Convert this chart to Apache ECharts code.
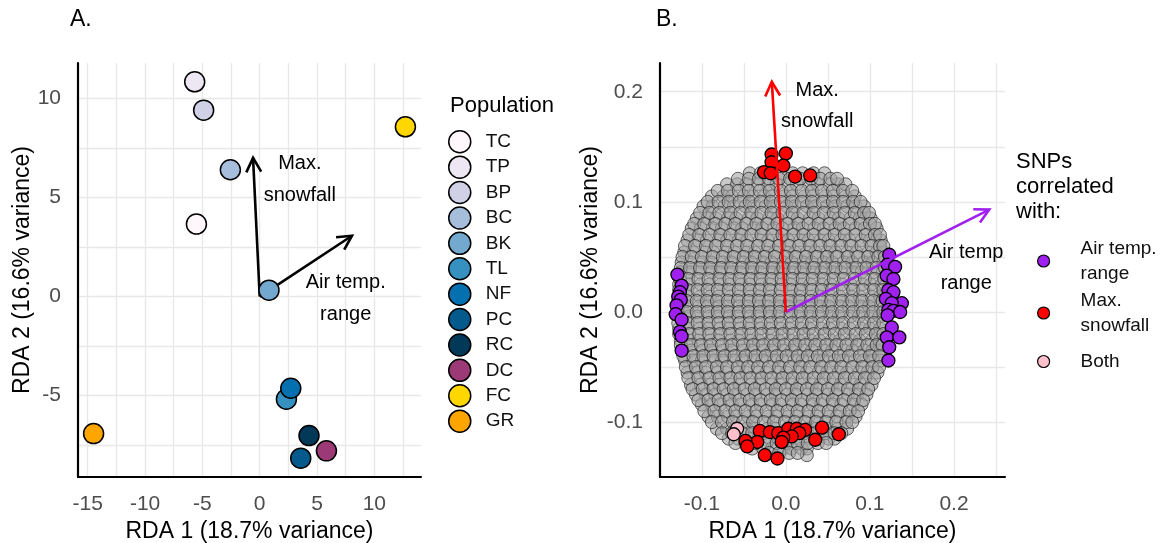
<!DOCTYPE html>
<html lang="en">
  <head>
    <meta charset="UTF-8">
    <title>RDA biplots</title>
    <style>
      html, body { margin: 0; padding: 0; background: #fff; }
      #main { width: 1167px; height: 543px; }
    </style>
  </head>
  <body>
    <div id="main"></div>
    <script src="https://cdn.jsdelivr.net/npm/echarts@6/dist/echarts.min.js"></script>
    <script>
      // ---- panel A: population scores ----
      var populations = ['TC', 'TP', 'BP', 'BC', 'BK', 'TL', 'NF', 'PC', 'RC', 'DC', 'FC', 'GR'];
      var popColors = ['#fff7fb', '#ece7f2', '#d0d1e6', '#a6bddb', '#74a9cf', '#3690c0',
                       '#0570b0', '#045a8d', '#023858', '#9b3a77', '#ffd700', '#ffa500'];
      var rda1Pop = [-5.52, -5.67, -4.89, -2.56, 0.81, 2.33, 2.71, 3.58, 4.30, 5.82, 12.71, -14.49];
      var rda2Pop = [3.66, 10.84, 9.41, 6.40, 0.32, -5.18, -4.63, -8.16, -7.02, -7.79, 8.57, -6.92];

      // environmental arrows (tip coordinates) and their label anchors
      var envNamesA = ['Air temp.\nrange', 'Max.\nsnowfall'];
      var envTipsA = [[8.05, 3.07], [-0.58, 7.0]];
      var envLabelsA = [[7.5, -0.09], [3.5, 5.89]];

      var ticksA_x = [-15, -10, -5, 0, 5, 10];
      var minorA_x = [-12.5, -7.5, -2.5, 2.5, 7.5, 12.5];
      var ticksA_y = [-5, 0, 5, 10];
      var minorA_y = [-7.5, -2.5, 2.5, 7.5];

      // ---- panel B: SNP loadings ----
      var envNamesB = ['Air temp\nrange', 'Max.\nsnowfall'];
      var envTipsB = [[0.242, 0.093], [-0.0167, 0.209]];
      var envLabelsB = [[0.2146, 0.0397], [0.0373, 0.1875]];

      var ticksB = [-0.1, 0, 0.1, 0.2];
      var minorB_x = [-0.05, 0.05, 0.15, 0.25];
      var minorB_y = [-0.05, 0.05, 0.15];

      // uncorrelated SNPs, rows of [y, x list], in thousandths
      var cloudRows = [
        [126, [-43, -30, -18, -5, 8, 20, 33, 46]],
        [116, [-70, -58, -47, -33, -21, -11, 3, 13, 28, 38, 52, 62, 71]],
        [105, [-88, -74, -64, -50, -39, -26, -16, -2, 8, 22, 32, 47, 57, 71, 82]],
        [96, [-98, -87, -73, -62, -48, -38, -24, -14, 1, 11, 25, 35, 49, 59, 73, 83, 93]],
        [85, [-106, -93, -83, -69, -59, -44, -34, -20, -10, 4, 14, 29, 39, 53, 63, 77, 88, 101]],
        [76, [-112, -101, -87, -76, -62, -52, -38, -28, -14, -4, 10, 20, 34, 45, 59, 69, 83, 94, 108]],
        [65, [-117, -104, -94, -80, -70, -56, -46, -31, -21, -7, 3, 17, 27, 41, 51, 65, 76, 90, 100, 113]],
        [54, [-121, -110, -96, -86, -72, -61, -47, -37, -23, -13, 1, 11, 25, 35, 49, 59, 73, 84, 98, 108, 117]],
        [45, [-124, -113, -99, -89, -75, -65, -51, -41, -27, -17, -3, 7, 21, 31, 45, 55, 69, 79, 93, 103, 116]],
        [36, [-125, -114, -102, -88, -78, -64, -54, -40, -30, -16, -6, 8, 18, 32, 42, 56, 66, 80, 90, 104, 115]],
        [25, [-127, -115, -101, -91, -77, -67, -53, -43, -29, -19, -5, 5, 19, 29, 43, 53, 67, 77, 91, 101, 114]],
        [14, [-126, -116, -102, -90, -80, -66, -56, -42, -32, -18, -8, 6, 16, 30, 40, 54, 64, 78, 88, 102, 112]],
        [5, [-128, -117, -103, -93, -79, -69, -55, -45, -31, -21, -7, 3, 17, 27, 41, 51, 65, 75, 89, 99, 113]],
        [-4, [-127, -115, -105, -91, -81, -67, -57, -43, -33, -19, -9, 5, 15, 29, 39, 53, 63, 77, 87, 101, 111]],
        [-15, [-127, -116, -102, -92, -78, -68, -54, -44, -30, -20, -6, 4, 18, 28, 42, 52, 66, 76, 90, 100, 112]],
        [-26, [-125, -114, -104, -90, -80, -66, -56, -42, -32, -18, -8, 6, 16, 30, 40, 54, 64, 78, 88, 102, 112]],
        [-35, [-123, -113, -99, -89, -75, -65, -51, -41, -27, -17, -3, 7, 21, 31, 45, 55, 69, 79, 93, 103, 113]],
        [-44, [-120, -110, -100, -86, -76, -62, -52, -38, -28, -14, -4, 10, 20, 34, 44, 58, 68, 82, 92, 104, 113]],
        [-55, [-117, -105, -95, -81, -71, -57, -47, -33, -23, -9, 1, 15, 25, 39, 49, 63, 73, 87, 97, 109]],
        [-66, [-113, -101, -89, -79, -65, -55, -41, -31, -17, -7, 7, 17, 31, 41, 55, 65, 79, 89, 102]],
        [-75, [-107, -95, -84, -70, -60, -46, -36, -22, -12, 2, 12, 26, 36, 50, 60, 74, 85, 96]],
        [-84, [-100, -88, -78, -64, -54, -40, -30, -16, -6, 8, 18, 32, 42, 56, 66, 80, 90]],
        [-95, [-92, -81, -69, -59, -45, -35, -21, -11, 3, 13, 27, 37, 51, 61, 74, 83]],
        [-106, [-82, -70, -60, -46, -36, -22, -12, 2, 12, 26, 36, 50, 62, 73]],
        [-115, [-68, -57, -43, -33, -19, -9, 5, 15, 29, 39, 51, 58]],
        [-124, [-40, -27, -17, -3, 7, 19, 25]],
        [-130, [25]],
        // second, offset layer
        [121, [-57, -44, -32, -20, -8, 5, 17, 30, 41, 53, 61]],
        [110, [-81, -69, -56, -44, -31, -19, -6, 6, 19, 31, 43, 56, 68, 79]],
        [100, [-93, -80, -68, -55, -43, -30, -18, -6, 7, 19, 31, 44, 56, 68, 80, 89]],
        [90, [-102, -91, -79, -66, -54, -41, -29, -17, -4, 8, 21, 33, 45, 57, 70, 82, 93, 99]],
        [80, [-109, -97, -84, -72, -60, -47, -35, -22, -10, 2, 15, 27, 39, 52, 64, 76, 89, 100, 106]],
        [70, [-115, -103, -91, -78, -66, -53, -41, -29, -16, -4, 9, 21, 33, 46, 58, 70, 83, 95, 106, 112]],
        [60, [-120, -108, -95, -83, -70, -58, -46, -33, -21, -8, 4, 16, 29, 41, 53, 66, 78, 90, 102, 112, 116]],
        [50, [-123, -112, -100, -87, -75, -62, -50, -37, -25, -13, 0, 12, 24, 37, 49, 61, 74, 86, 98, 110, 118]],
        [40, [-125, -114, -102, -90, -77, -65, -52, -40, -28, -15, -3, 10, 22, 34, 47, 59, 71, 84, 96, 108, 118]],
        [30, [-126, -116, -104, -92, -79, -67, -55, -42, -30, -17, -5, 8, 20, 32, 45, 57, 69, 82, 94, 106, 117]],
        [20, [-127, -117, -105, -93, -81, -68, -56, -43, -31, -19, -6, 6, 18, 31, 43, 55, 68, 80, 92, 105, 116]],
        [10, [-128, -118, -106, -94, -82, -69, -57, -44, -32, -20, -7, 5, 17, 30, 42, 54, 67, 79, 91, 104, 115]],
        [0, [-129, -118, -106, -93, -81, -69, -56, -44, -31, -19, -7, 6, 18, 30, 43, 55, 67, 80, 92, 104, 116]],
        [-10, [-128, -117, -105, -92, -80, -68, -55, -43, -30, -18, -6, 7, 19, 31, 44, 56, 68, 81, 93, 105, 116]],
        [-20, [-127, -115, -103, -91, -78, -66, -53, -41, -29, -16, -4, 9, 21, 33, 46, 58, 70, 83, 95, 107, 116]],
        [-30, [-125, -113, -101, -89, -76, -64, -51, -39, -27, -14, -2, 11, 23, 35, 48, 60, 72, 85, 97, 108, 115]],
        [-40, [-122, -110, -98, -86, -73, -61, -48, -36, -24, -11, 1, 14, 26, 38, 51, 63, 75, 88, 100, 111]],
        [-50, [-119, -107, -95, -82, -70, -57, -45, -33, -20, -8, 5, 17, 29, 42, 54, 66, 79, 91, 103, 111]],
        [-60, [-116, -104, -91, -79, -66, -54, -42, -29, -17, -4, 8, 20, 33, 45, 57, 70, 82, 94, 105]],
        [-70, [-111, -99, -86, -74, -62, -49, -37, -24, -12, 0, 13, 25, 37, 50, 62, 74, 87, 98]],
        [-80, [-104, -92, -80, -67, -55, -43, -30, -18, -5, 7, 19, 32, 44, 56, 69, 81, 92]],
        [-90, [-97, -85, -72, -60, -48, -35, -23, -10, 2, 14, 27, 39, 51, 64, 76, 86]],
        [-100, [-88, -76, -63, -51, -39, -26, -14, -1, 11, 23, 36, 48, 60, 72, 79]],
        [-110, [-76, -64, -52, -40, -27, -15, -2, 10, 22, 35, 47, 58, 66]],
        [-119, [-60, -48, -36, -23, -11, 1, 14, 26, 38, 48]],
        [-128, [-20, -8, 4, 14]]
      ];

      var tempSnps = [
        [-0.129, 0.034], [-0.124, 0.024], [-0.126, 0.018], [-0.128, 0.014], [-0.125, 0.011],
        [-0.130, 0.006], [-0.131, -0.002], [-0.124, -0.007], [-0.126, -0.018], [-0.124, -0.022],
        [-0.124, -0.035],
        [0.123, 0.052], [0.121, 0.043], [0.130, 0.041], [0.120, 0.033], [0.128, 0.030],
        [0.122, 0.020], [0.128, 0.018], [0.119, 0.012], [0.138, 0.008], [0.126, 0.008],
        [0.122, 0.002], [0.128, 0.001], [0.136, 0.000], [0.121, -0.003], [0.126, -0.014],
        [0.120, -0.023], [0.135, -0.023], [0.123, -0.032], [0.122, -0.044]
      ];
      var snowSnps = [
        [-0.017, 0.143], [0.000, 0.144], [-0.017, 0.136], [-0.003, 0.133], [-0.026, 0.127],
        [-0.018, 0.126], [0.011, 0.123], [0.029, 0.124],
        [-0.031, -0.108], [-0.019, -0.109], [-0.009, -0.110], [0.003, -0.106], [0.013, -0.106],
        [0.023, -0.107], [0.016, -0.110], [0.007, -0.113], [-0.003, -0.114], [-0.005, -0.118],
        [0.043, -0.105], [0.063, -0.111], [0.035, -0.116], [-0.034, -0.118], [-0.048, -0.117],
        [-0.046, -0.122], [-0.025, -0.130], [-0.010, -0.133]
      ];
      var bothSnps = [[-0.058, -0.106], [-0.062, -0.111]];

      var FONT = 'Liberation Sans, Arial, sans-serif';
      var chart = echarts.init(document.getElementById('main'), null, { renderer: 'canvas' });

      // flatten cloud rows into points
      var cloudData = [];
      cloudRows.forEach(function(row) {
        row[1].forEach(function(x) { cloudData.push([x / 1000, row[0] / 1000]); });
      });

      function gridLines(xMajor, xMinor, yMajor, yMinor) {
        var d = [];
        xMajor.concat(xMinor).forEach(function(v) { d.push({ xAxis: v }); });
        yMajor.concat(yMinor).forEach(function(v) { d.push({ yAxis: v }); });
        return {
          silent: true, symbol: 'none', z: 0, animation: false,
          label: { show: false },
          lineStyle: { color: '#e8e8e8', width: 1.4, type: 'solid' },
          emphasis: { disabled: true },
          data: d
        };
      }

      function arrowRenderer(colors) {
        return function(params, api) {
          var o = api.coord([0, 0]);
          var t = api.coord([api.value(0), api.value(1)]);
          var ang = Math.atan2(t[1] - o[1], t[0] - o[0]);
          var h = 16, spread = Math.PI / 6.5;
          var p1 = [t[0] - h * Math.cos(ang - spread), t[1] - h * Math.sin(ang - spread)];
          var p2 = [t[0] - h * Math.cos(ang + spread), t[1] - h * Math.sin(ang + spread)];
          var c = colors[params.dataIndex];
          return {
            type: 'group',
            children: [
              { type: 'line', shape: { x1: o[0], y1: o[1], x2: t[0], y2: t[1] },
                style: { stroke: c, lineWidth: 2.6 } },
              { type: 'polyline', shape: { points: [p1, t, p2] },
                style: { stroke: c, lineWidth: 2.6, fill: null } }
            ]
          };
        };
      }

      function axisX(gi, min, max, ticks, dec) {
        return {
          gridIndex: gi, type: 'value', min: min, max: max,
          name: 'RDA 1 (18.7% variance)', nameLocation: 'middle', nameGap: 40,
          nameTextStyle: { fontSize: 23, color: '#000', fontFamily: FONT },
          axisLine: { show: true, onZero: false, lineStyle: { color: '#000', width: 2.2 } },
          axisTick: { show: false },
          splitLine: { show: false },
          axisLabel: {
            customValues: ticks, color: '#4d4d4d', fontSize: 21, margin: 17, fontFamily: FONT,
            formatter: function(v) { return dec ? v.toFixed(1) : String(v); }
          }
        };
      }
      function axisY(gi, min, max, ticks, dec, gap) {
        return {
          gridIndex: gi, type: 'value', min: min, max: max,
          name: 'RDA 2 (16.6% variance)', nameLocation: 'middle', nameGap: gap,
          nameTextStyle: { fontSize: 23, color: '#000', fontFamily: FONT },
          axisLine: { show: true, onZero: false, lineStyle: { color: '#000', width: 2.2 } },
          axisTick: { show: false },
          splitLine: { show: false },
          axisLabel: {
            customValues: ticks, color: '#4d4d4d', fontSize: 21, margin: 17, fontFamily: FONT,
            formatter: function(v) { return dec ? v.toFixed(1) : String(v); }
          }
        };
      }

      var series = [];
      // grid lines, panel A and B
      series.push({ type: 'scatter', xAxisIndex: 0, yAxisIndex: 0, data: [], z: 0,
        markLine: gridLines(ticksA_x, minorA_x, ticksA_y, minorA_y) });
      series.push({ type: 'scatter', xAxisIndex: 1, yAxisIndex: 1, data: [], z: 0,
        markLine: gridLines(ticksB, minorB_x, ticksB, minorB_y) });

      // arrows in A (under points)
      series.push({
        type: 'custom', xAxisIndex: 0, yAxisIndex: 0, z: 1, silent: true,
        renderItem: arrowRenderer(['#000', '#000']), data: envTipsA
      });
      series.push({
        type: 'scatter', xAxisIndex: 0, yAxisIndex: 0, z: 1, silent: true,
        symbolSize: 1, itemStyle: { color: 'transparent', opacity: 1 },
        data: envLabelsA.map(function(p, i) { return [p[0], p[1], envNamesA[i]]; }),
        label: { show: true, position: 'inside', formatter: function(p) { return p.data[2]; },
                 fontSize: 20, lineHeight: 32, color: '#000', align: 'center', fontFamily: FONT }
      });

      populations.forEach(function(name, i) {
        series.push({
          type: 'scatter', name: name, xAxisIndex: 0, yAxisIndex: 0, z: 3,
          symbolSize: 20,
          itemStyle: { color: popColors[i], borderColor: '#000', borderWidth: 1.5, opacity: 1 },
          data: [[rda1Pop[i], rda2Pop[i]]]
        });
      });

      // panel B
      series.push({
        type: 'scatter', name: 'None', xAxisIndex: 1, yAxisIndex: 1, z: 2, silent: true,
        symbolSize: 13,
        itemStyle: { color: 'rgba(165,165,165,0.6)', borderColor: 'rgba(20,20,20,0.65)', borderWidth: 1, opacity: 1 },
        data: cloudData
      });
      var snpStyle = function(c) {
        return { color: c, borderColor: '#000', borderWidth: 1.3, opacity: 1 };
      };
      series.push({ type: 'scatter', name: 'Air temp. range', xAxisIndex: 1, yAxisIndex: 1, z: 3,
        symbolSize: 13, itemStyle: snpStyle('#a020f0'), data: tempSnps });
      series.push({ type: 'scatter', name: 'Max. snowfall', xAxisIndex: 1, yAxisIndex: 1, z: 3,
        symbolSize: 13, itemStyle: snpStyle('#ff0000'), data: snowSnps });
      series.push({ type: 'scatter', name: 'Both', xAxisIndex: 1, yAxisIndex: 1, z: 3,
        symbolSize: 13, itemStyle: snpStyle('#ffc0cb'), data: bothSnps });
      series.push({
        type: 'custom', xAxisIndex: 1, yAxisIndex: 1, z: 4, silent: true,
        renderItem: arrowRenderer(['#a020f0', '#ff0000']), data: envTipsB
      });
      series.push({
        type: 'scatter', xAxisIndex: 1, yAxisIndex: 1, z: 4, silent: true,
        symbolSize: 1, itemStyle: { color: 'transparent', opacity: 1 },
        data: envLabelsB.map(function(p, i) { return [p[0], p[1], envNamesB[i]]; }),
        label: { show: true, position: 'inside', formatter: function(p) { return p.data[2]; },
                 fontSize: 20, lineHeight: 31, color: '#000', align: 'center', fontFamily: FONT }
      });

      // legend left edge = left edge of the drawn icon
      var legendBText = { 'Air temp. range': 'Air temp.\nrange', 'Max. snowfall': 'Max.\nsnowfall', 'Both': 'Both' };
      function legendB(name, top) {
        return {
          orient: 'vertical', left: 1037, top: top, padding: 0, data: [name],
          icon: 'circle', itemWidth: 64, itemHeight: 12, selectedMode: false,
          itemStyle: { borderColor: '#000', borderWidth: 1.2 },
          formatter: function(n) { return legendBText[n]; },
          textStyle: { fontSize: 19, lineHeight: 25, color: '#111', fontFamily: FONT }
        };
      }

      var option = {
        animation: false,
        textStyle: { fontFamily: FONT },
        grid: [
          { left: 78, right: 1167 - 421, top: 63, bottom: 66, outerBoundsMode: 'none' },
          { left: 660, right: 162, top: 63, bottom: 66, outerBoundsMode: 'none' }
        ],
        xAxis: [
          axisX(0, -15.85, 14.07, ticksA_x, false),
          axisX(1, -0.1497, 0.2607, ticksB, true)
        ],
        yAxis: [
          axisY(0, -9.11, 11.79, ticksA_y, false, 44),
          axisY(1, -0.1498, 0.2261, ticksB, true, 58)
        ],
        legend: [
          {
            orient: 'vertical', left: 448, top: 130, padding: 0, data: populations,
            icon: 'circle', itemWidth: 42, itemHeight: 22, itemGap: 1.9, selectedMode: false,
            itemStyle: { borderColor: '#000', borderWidth: 1.5 },
            textStyle: { fontSize: 19, lineHeight: 22, color: '#111', fontFamily: FONT }
          },
          legendB('Air temp. range', 236),
          legendB('Max. snowfall', 288),
          legendB('Both', 349)
        ],
        graphic: [
          { type: 'text', x: 70, y: 20, style: { text: 'A.', fontSize: 23, fontFamily: FONT, fill: '#000', verticalAlign: 'middle' } },
          { type: 'text', x: 656, y: 20, style: { text: 'B.', fontSize: 23, fontFamily: FONT, fill: '#000', verticalAlign: 'middle' } },
          { type: 'text', x: 450, y: 106, style: { text: 'Population', fontSize: 22, fontFamily: FONT, fill: '#000', verticalAlign: 'middle' } },
          { type: 'text', x: 1016, y: 187, style: { text: 'SNPs\ncorrelated\nwith:', fontSize: 22, lineHeight: 25, fontFamily: FONT, fill: '#000', verticalAlign: 'middle' } }
        ],
        series: series
      };
      chart.setOption(option);
    </script>
  </body>
</html>
